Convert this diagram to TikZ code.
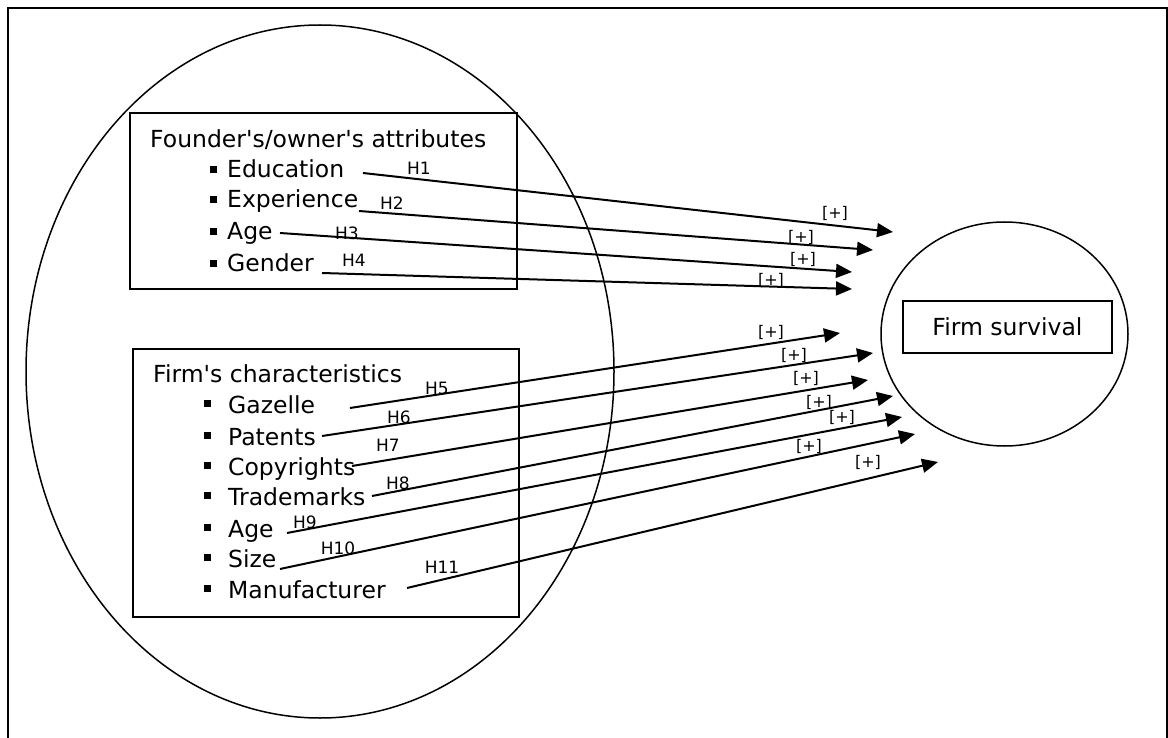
\documentclass[tikz,border=0pt]{standalone}
\usepackage{fontspec}
\setmainfont{DejaVu Sans}
\usetikzlibrary{arrows.meta,shapes.geometric}
\newcommand{\apo}{\textquotesingle}
\begin{document}
\begin{tikzpicture}[x=1pt,y=-1pt,
  frame/.style={line width=2pt},
  box/.style={draw,line width=1.7pt,inner sep=0pt,outer sep=0pt},
  oval/.style={draw,ellipse,line width=1.5pt,inner sep=0pt,outer sep=0pt},
  maintext/.style={font=\fontsize{23.5}{28}\selectfont,inner sep=0pt,anchor=base west},
  bul/.style={fill,minimum size=7pt,inner sep=0pt},
  hyp/.style={font=\fontsize{17}{18}\selectfont,inner sep=0pt},
  sign/.style={font=\fontsize{16}{17}\selectfont,inner sep=0pt},
  link/.style={line width=2pt,-{Triangle[length=16pt,width=14pt]}}]
\useasboundingbox (0,0) rectangle (1168,738);
% outer frame (open at the bottom)
\draw[frame] (8,738) -- (8,8) -- (1167,8) -- (1167,738);
% big ellipse
\node[oval,minimum width=588pt,minimum height=693pt] (big) at (320,371.5) {};
% boxes
\node[box,minimum width=387pt,minimum height=176pt] (founder) at (323.5,201) {};
\node[box,minimum width=386pt,minimum height=268pt] (firm) at (326,483) {};
% firm survival
\node[oval,minimum width=247pt,minimum height=224pt] (surv) at (1004.5,334) {};
\node[box,minimum width=209pt,minimum height=52pt,font=\fontsize{23.5}{28}\selectfont] (survbox) at (1007.5,327) {Firm survival};
% founder texts
\node[maintext] (ft) at (150,148) {Founder\apo s/owner\apo s attributes};
\node[bul] (b1) at (213.5,169.5) {};
\node[bul] (b2) at (213.5,199.5) {};
\node[bul] (b3) at (213.5,231.5) {};
\node[bul] (b4) at (213.5,263.5) {};
\node[maintext] (t1) at (227,178) {Education};
\node[maintext] (t2) at (227,208) {Experience};
\node[maintext] (t3) at (227,240) {Age};
\node[maintext] (t4) at (227,272) {Gender};
% firm texts
\node[maintext] (ct) at (153,382) {Firm\apo s characteristics};
\foreach \i/\y in {5/413,6/445,7/475,8/505,9/537,10/567,11/598}{
  \node[bul] (b\i) at (207,\y-9.5) {};
}
\node[maintext] (t5) at (228,413) {Gazelle};
\node[maintext] (t6) at (228,445) {Patents};
\node[maintext] (t7) at (228,475) {Copyrights};
\node[maintext] (t8) at (228,505) {Trademarks};
\node[maintext] (t9) at (228,537) {Age};
\node[maintext] (t10) at (228,567) {Size};
\node[maintext] (t11) at (228,598) {Manufacturer};
% arrow end points
\coordinate (s1) at (363,173);  \coordinate (e1) at (893,232);
\coordinate (s2) at (359,211);  \coordinate (e2) at (873,250);
\coordinate (s3) at (280,233);  \coordinate (e3) at (852,272);
\coordinate (s4) at (322,273);  \coordinate (e4) at (852,289);
\coordinate (s5) at (350,408);  \coordinate (e5) at (840,333);
\coordinate (s6) at (322,436);  \coordinate (e6) at (873,353);
\coordinate (s7) at (352,466);  \coordinate (e7) at (868,380);
\coordinate (s8) at (372,496);  \coordinate (e8) at (893,396);
\coordinate (s9) at (287,533);  \coordinate (e9) at (902,417);
\coordinate (s10) at (280,569); \coordinate (e10) at (915,434);
\coordinate (s11) at (407,588); \coordinate (e11) at (938,462);
\foreach \i in {1,...,11}{
  \draw[link] (s\i) -- (e\i);
}
% hypothesis labels
\node[hyp] (h1) at (419,168) {H1};
\node[hyp] (h2) at (392,203) {H2};
\node[hyp] (h3) at (347,233) {H3};
\node[hyp] (h4) at (354,260) {H4};
\node[hyp] (h5) at (437,388) {H5};
\node[hyp] (h6) at (399,417) {H6};
\node[hyp] (h7) at (388,445) {H7};
\node[hyp] (h8) at (398,483) {H8};
\node[hyp] (h9) at (305,522) {H9};
\node[hyp] (h10) at (338,548) {H10};
\node[hyp] (h11) at (442,567) {H11};
% sign labels
\node[sign] (p1) at (835,213) {[+]};
\node[sign] (p2) at (801,237) {[+]};
\node[sign] (p3) at (803,259) {[+]};
\node[sign] (p4) at (771,280) {[+]};
\node[sign] (p5) at (771,332) {[+]};
\node[sign] (p6) at (794,355) {[+]};
\node[sign] (p7) at (806,378) {[+]};
\node[sign] (p8) at (819,402) {[+]};
\node[sign] (p9) at (842,417) {[+]};
\node[sign] (p10) at (809,446) {[+]};
\node[sign] (p11) at (868,462) {[+]};
\end{tikzpicture}
\end{document}
